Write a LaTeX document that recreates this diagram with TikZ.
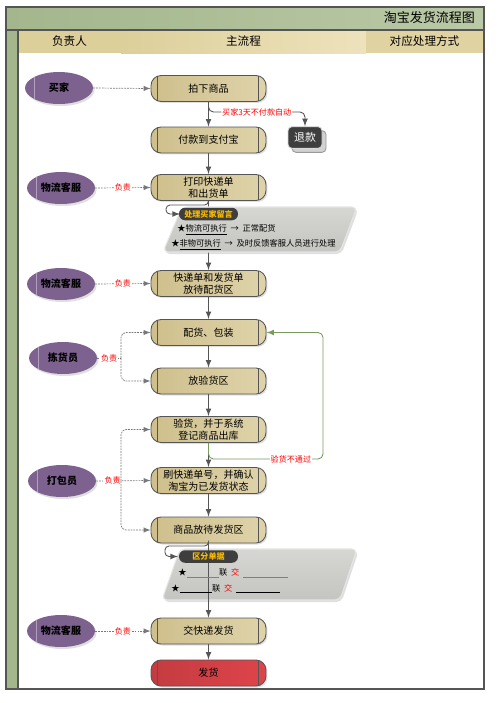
\documentclass[tikz,border=0pt]{standalone}
\usepackage{fontspec}
\setmainfont{Noto Sans CJK SC}
\usetikzlibrary{shapes.geometric,shadows}

\definecolor{framegray}{RGB}{85,85,85}
\definecolor{titlegreen}{RGB}{163,182,140}
\definecolor{titlegreenl}{RGB}{186,201,166}
\definecolor{headtan}{RGB}{221,207,154}
\definecolor{headtanl}{RGB}{237,226,188}
\definecolor{boxtan}{RGB}{206,191,140}
\definecolor{boxtanl}{RGB}{223,211,170}
\definecolor{rolepurple}{RGB}{125,97,142}
\definecolor{notegray}{RGB}{196,196,192}
\definecolor{notegrayl}{RGB}{214,214,210}
\definecolor{tagdark}{RGB}{62,62,62}
\definecolor{tagyellow}{RGB}{250,186,0}
\definecolor{failgreen}{RGB}{120,155,95}
\definecolor{shipred}{RGB}{222,68,74}
\definecolor{linkgray}{RGB}{120,120,120}

\tikzset{
  proc/.style={draw=framegray, line width=0.5pt, rounded corners=0.2cm,
    left color=boxtan, right color=boxtanl, minimum width=2.3cm, minimum height=0.52cm,
    align=center, inner sep=0pt, font=\fontsize{5.7}{6.8}\selectfont,
    drop shadow={shadow xshift=0.03cm, shadow yshift=-0.03cm, opacity=0.25},
    path picture={
      \draw[framegray, line width=0.4pt] ([xshift=0.13cm]path picture bounding box.north west) -- ([xshift=0.13cm]path picture bounding box.south west);
      \draw[framegray, line width=0.4pt] ([xshift=-0.15cm]path picture bounding box.north east) -- ([xshift=-0.15cm]path picture bounding box.south east);}},
  role/.style={ellipse, fill=rolepurple, minimum width=1.36cm, minimum height=0.64cm,
    inner sep=0pt, font=\bfseries\fontsize{5.7}{6.8}\selectfont,
    drop shadow={shadow xshift=0.03cm, shadow yshift=-0.04cm, opacity=0.25},
    path picture={
      \draw[rolepurple!60!white, line width=0.4pt] ([xshift=0.18cm]path picture bounding box.north west) -- ([xshift=0.18cm]path picture bounding box.south west);}},
  refundbox/.style={fill=tagdark, draw=white!70!gray, line width=0.5pt, rounded corners=0.08cm, text=white,
    minimum width=0.68cm, minimum height=0.42cm, font=\fontsize{6.2}{7}\selectfont,
    copy shadow={shadow xshift=0.08cm, shadow yshift=-0.08cm, fill=gray!35, draw=gray!80}},
  notebox/.style={draw=white!80!gray, line width=0.6pt, rounded corners=0.1cm,
    top color=notegrayl, bottom color=notegray,
    drop shadow={shadow xshift=0.03cm, shadow yshift=-0.04cm, opacity=0.25}},
  tagbox/.style={fill=tagdark, rounded corners=0.12cm, text=tagyellow, inner sep=1pt,
    minimum width=1.18cm, minimum height=0.25cm, font=\bfseries\fontsize{4.6}{5}\selectfont},
  notetext/.style={anchor=west, inner sep=0pt, font=\fontsize{4.7}{5.5}\selectfont},
  headtext/.style={font=\fontsize{6.6}{7.5}\selectfont},
  flow/.style={-latex, draw=framegray, line width=0.5pt},
  link/.style={-latex, draw=linkgray, line width=0.4pt, dash pattern=on 1pt off 0.6pt},
  lbl/.style={text=red, fill=white, inner sep=0.6pt, font=\fontsize{4.6}{5}\selectfont},
  failline/.style={-latex, draw=failgreen, line width=0.5pt, rounded corners=0.1cm}
}

\begin{document}
\begin{tikzpicture}[x=0.02cm, y=-0.02cm]
  \fill[white] (0,0) rectangle (497,703);
  \useasboundingbox (0,0) rectangle (497,703);

  \fill[left color=titlegreen, right color=titlegreenl] (6,7) rectangle (484,30);
  \fill[headtan] (18,30) rectangle (121,53);
  \fill[left color=headtan, right color=headtanl] (121,30) rectangle (366,53);
  \fill[headtan!80!headtanl] (366,30) rectangle (484,53);
  \fill[titlegreen] (6,30) rectangle (18,689);
  \draw[framegray, line width=0.7pt] (6,7) rectangle (484,689);
  \draw[framegray, line width=0.7pt] (6,30) -- (484,30);
  \draw[framegray, line width=0.7pt] (18,30) -- (18,689);

  \node[anchor=east, font=\fontsize{7.4}{8}\selectfont] (title) at (481,18) {淘宝发货流程图};
  \node[headtext] (hrole) at (69.5,41.5) {负责人};
  \node[headtext] (hmain) at (243.5,41.5) {主流程};
  \node[headtext] (hdeal) at (424.5,41.5) {对应处理方式};

  \node[role] (buyer) at (59,88) {买家};
  \node[role] (cs1) at (61,188) {物流客服};
  \node[role] (cs2) at (61,284) {物流客服};
  \node[role] (picker) at (63,358) {拣货员};
  \node[role] (packer) at (62,481) {打包员};
  \node[role] (cs3) at (61,631) {物流客服};

  \node[proc] (order) at (208.5,88.5) {拍下商品};
  \node[proc] (pay) at (208.5,140) {付款到支付宝};
  \node[proc] (print) at (208.5,187.5) {打印快递单\\和出货单};
  \node[proc] (slip) at (208.5,283.5) {快递单和发货单\\放待配货区};
  \node[proc] (pack) at (208.5,332.5) {配货、包装};
  \node[proc] (check) at (208.5,381) {放验货区};
  \node[proc] (verify) at (208.5,429.5) {验货，并于系统\\登记商品出库};
  \node[proc] (scan) at (208.5,480.5) {刷快递单号，并确认\\淘宝为已发货状态};
  \node[proc] (wait) at (208.5,530) {商品放待发货区};
  \node[proc] (hand) at (208.5,631) {交快递发货};
  \node[proc, left color=shipred!88!black, right color=shipred] (ship) at (208.5,673) {发货};

  \node[refundbox] (refund) at (305,137.5) {退款};

  \foreach \a/\b in {order/pay, pay/print, print/slip, slip/pack, pack/check, check/verify, verify/scan, scan/wait, hand/ship}
    \draw[flow] (\a) -- (\b);

  \coordinate (refundin) at (305,112);
  \draw[flow, rounded corners=0.1cm] (order.south) |- node[pos=0.75, lbl] {买家3天不付款自动} (refundin) -- (refund.north);

  \draw[link] (buyer.east) -- (order.west);
  \draw[link] (cs1.east) -- node[lbl] {负责} (print.west);
  \draw[link] (cs2.east) -- node[lbl] {负责} (slip.west);
  \draw[link] (cs3.east) -- node[lbl] {负责} (hand.west);

  \coordinate (pickfork) at (121,358);
  \draw[link, -] (picker.east) -- node[lbl] {负责} (pickfork);
  \draw[link, rounded corners=0.1cm] (pickfork) |- (pack.west);
  \draw[link, rounded corners=0.1cm] (pickfork) |- (check.west);

  \coordinate (packfork) at (121,481);
  \draw[link] (packer.east) -- node[lbl, pos=0.3] {负责} (scan.west);
  \draw[link, rounded corners=0.1cm] (packfork) |- (verify.west);
  \draw[link, rounded corners=0.1cm] (packfork) |- (wait.west);

  \coordinate (failpt) at (323,459);
  \draw[failline] (verify.south) |- node[pos=0.86, lbl] {验货不通过} (failpt) |- (pack.east);

  \draw[notebox] (182,207) -- (357,207) -- (340,252) -- (163,252) -- cycle;
  \coordinate (loop1) at (166,205);
  \draw[flow, rounded corners=0.08cm] (print.south) |- (loop1) |- (180,214);
  \node[tagbox] (tag1) at (208.5,214) {处理买家留言};
  \node[notetext] (rule1) at (177,230) {★\underline{物流可执行}\ \ →\ \ 正常配货};
  \node[notetext] (rule2) at (171,245) {★\underline{非物可执行}\ \ →\ \ 及时反馈客服人员进行处理};

  \draw[notebox] (180,549) -- (357,549) -- (340,600) -- (162,600) -- cycle;
  \draw[flow] (wait) -- (hand);
  \coordinate (loop2) at (165,546);
  \draw[flow, rounded corners=0.08cm] (wait.south) |- (loop2) |- (178,556.5);
  \node[tagbox] (tag2) at (208.5,556.5) {区分单据};
  \node[notetext] (blank1) at (178,573) {★\textcolor{gray}{\rule[-1pt]{18.5pt}{0.4pt}}联\ \ \textcolor{red}{交}\ \ \textcolor{gray}{\rule[-1pt]{25.5pt}{0.4pt}}};
  \node[notetext] (blank2) at (171,589) {★\rule[-1pt]{18.5pt}{0.7pt}联\ \ \textcolor{red}{交}\ \ \rule[-1pt]{25pt}{0.7pt}};
\end{tikzpicture}
\end{document}
